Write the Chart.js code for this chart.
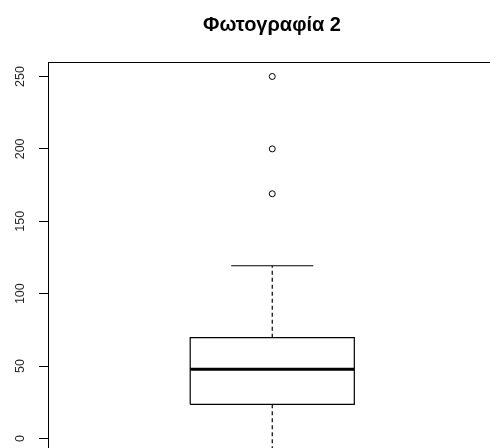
<!DOCTYPE html>
<html>
<head>
<meta charset="utf-8">
<script src="https://cdn.jsdelivr.net/npm/chart.js@4/dist/chart.umd.min.js"></script>
<style>
  html, body { margin: 0; padding: 0; background: #fff; overflow: hidden; }
  #wrap { width: 490px; height: 448px; overflow: hidden; position: relative; }
  canvas { display: block; }
</style>
</head>
<body>
<div id="wrap"><canvas id="c" width="544" height="460"></canvas></div>
<script>
// ---- data ----
const title = 'Φωτογραφία 2';
const categories = [1];                 // single box at x = 1
const lowerWhisker = [-10];             // runs off the bottom of the picture
const q1 = [23.6];
const median = [47.8];
const q3 = [69.6];
const upperWhisker = [119.3];
const outliers = [169, 200, 250];
const tickLabels = [0, 50, 100, 150, 200, 250];

// ---- drawing constants ----
const BOX_HALF = 0.185;
const STAPLE_HALF = 0.0926;
const BLACK = '#000';

const cx = categories[0];
const seg = (a, b) => [a, b];
const datasets = [
  { // box outline
    data: [
      {x: cx - BOX_HALF, y: q1[0]}, {x: cx + BOX_HALF, y: q1[0]},
      {x: cx + BOX_HALF, y: q3[0]}, {x: cx - BOX_HALF, y: q3[0]},
      {x: cx - BOX_HALF, y: q1[0]}
    ],
    showLine: true, borderColor: BLACK, borderWidth: 1.2, pointRadius: 0, fill: false
  },
  { // median
    data: seg({x: cx - BOX_HALF, y: median[0]}, {x: cx + BOX_HALF, y: median[0]}),
    showLine: true, borderColor: BLACK, borderWidth: 3, pointRadius: 0, borderCapStyle: 'butt'
  },
  { // upper whisker
    data: seg({x: cx, y: q3[0]}, {x: cx, y: upperWhisker[0]}),
    showLine: true, borderColor: BLACK, borderWidth: 1.2, borderDash: [4, 3], pointRadius: 0
  },
  { // lower whisker
    data: seg({x: cx, y: q1[0]}, {x: cx, y: lowerWhisker[0]}),
    showLine: true, borderColor: BLACK, borderWidth: 1.2, borderDash: [4, 3], pointRadius: 0
  },
  { // upper staple
    data: seg({x: cx - STAPLE_HALF, y: upperWhisker[0]}, {x: cx + STAPLE_HALF, y: upperWhisker[0]}),
    showLine: true, borderColor: BLACK, borderWidth: 1.2, pointRadius: 0
  },
  { // lower staple
    data: seg({x: cx - STAPLE_HALF, y: lowerWhisker[0]}, {x: cx + STAPLE_HALF, y: lowerWhisker[0]}),
    showLine: true, borderColor: BLACK, borderWidth: 1.2, pointRadius: 0
  },
  { // outliers
    data: outliers.map(v => ({x: cx, y: v})),
    showLine: false, pointRadius: 3, pointBorderWidth: 1,
    pointBorderColor: BLACK, pointBackgroundColor: 'rgba(0,0,0,0)'
  }
];

const frame = {
  id: 'frame',
  afterDraw(chart) {
    const {ctx, chartArea: a} = chart;
    ctx.save();
    ctx.strokeStyle = BLACK;
    ctx.lineWidth = 1;
    ctx.strokeRect(Math.round(a.left) + 0.5, Math.round(a.top) + 0.5,
                   Math.round(a.right - a.left), Math.round(a.bottom - a.top));
    // rotated y tick labels (R style)
    const ys = chart.scales.y;
    ctx.fillStyle = '#222';
    ctx.font = '12.5px "Liberation Sans", Arial, sans-serif';
    ctx.textAlign = 'center';
    ctx.textBaseline = 'middle';
    ys.ticks.forEach(t => {
      const py = ys.getPixelForValue(t.value);
      ctx.save();
      ctx.translate(21, py);
      ctx.rotate(-Math.PI / 2);
      ctx.fillText(String(t.value), 0, 0);
      ctx.restore();
    });
    ctx.restore();
  }
};

new Chart(document.getElementById('c'), {
  type: 'scatter',
  data: { datasets },
  plugins: [frame],
  options: {
    responsive: false,
    animation: false,
    layout: { padding: { left: 0, right: 0, top: 0, bottom: 5 } },
    plugins: {
      legend: { display: false },
      tooltip: { enabled: false },
      title: {
        display: true,
        text: title,
        color: BLACK,
        font: { family: '"Liberation Sans", Arial, sans-serif', size: 20, weight: 'bold', lineHeight: 1.2 },
        padding: { top: 13, bottom: 25 }
      }
    },
    scales: {
      x: { type: 'linear', min: 0.4944, max: 1.6014, display: false },
      y: {
        type: 'linear',
        min: -11.4,
        max: 260,
        afterBuildTicks: s => { s.ticks = tickLabels.map(v => ({value: v})); },
        afterFit: s => { s.width = 48; },
        ticks: { display: false },
        grid: { drawOnChartArea: false, drawTicks: true, tickLength: 9, color: BLACK, tickColor: BLACK, lineWidth: 1 },
        border: { display: true, color: BLACK, width: 1 }
      }
    }
  }
});
</script>
</body>
</html>
